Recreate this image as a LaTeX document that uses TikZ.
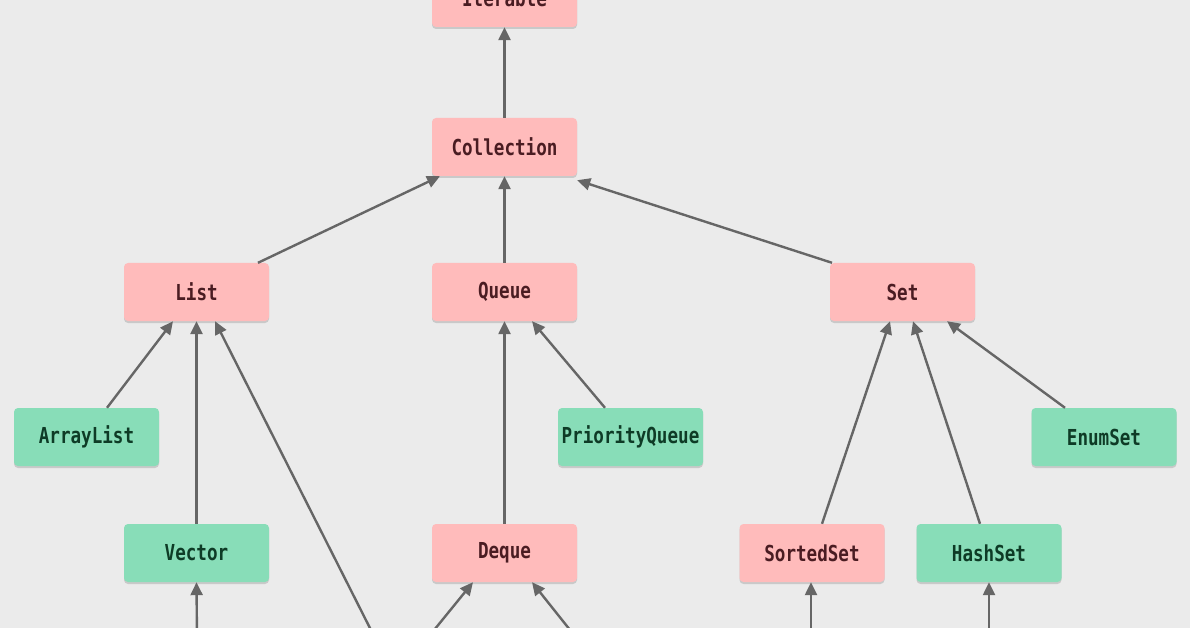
\documentclass[tikz,border=0pt]{standalone}
\usepackage{fontspec}
\newfontfamily\codefont[FakeStretch=0.8]{DejaVu Sans Mono}
\usetikzlibrary{arrows.meta,shadows}
\definecolor{bgc}{HTML}{EBEBEB}
\definecolor{pinkc}{HTML}{FFBBBB}
\definecolor{greenc}{HTML}{88DDB8}
\definecolor{pinkt}{HTML}{4A1C22}
\definecolor{greent}{HTML}{0E3B26}
\definecolor{edgec}{HTML}{666666}
\tikzset{
  cls/.style={rounded corners=4pt, minimum width=145pt, minimum height=58pt,
    inner sep=0pt, font=\codefont\bfseries\fontsize{22}{25}\selectfont,
    drop shadow={shadow xshift=0pt, shadow yshift=-2pt, opacity=0.25, fill=black!60}},
  iface/.style={cls, fill=pinkc, text=pinkt},
  impl/.style={cls, fill=greenc, text=greent},
  inh/.style={draw=edgec, line width=2.4pt, -{Triangle[length=13pt,width=12pt]}},
}
\begin{document}
\begin{tikzpicture}[x=1pt,y=-1pt]
\fill[white] (0,0) rectangle (1196,628);
\fill[bgc] (0,0) rectangle (1190,628);
\useasboundingbox (0,0) rectangle (1196,628);
\begin{scope}
\clip (0,0) rectangle (1190,628);
\node[iface] (iterable) at (504.5,-2) {Iterable};
\node[iface] (collection) at (504.5,147) {Collection};
\node[iface] (list) at (196.5,292) {List};
\node[iface] (queue) at (504.5,292) {Queue};
\node[iface] (set) at (902.5,292) {Set};
\node[impl] (arraylist) at (86.5,437) {ArrayList};
\node[impl] (pq) at (630.5,437) {PriorityQueue};
\node[impl] (enumset) at (1104,437) {EnumSet};
\node[impl] (vector) at (196.5,553) {Vector};
\node[iface] (deque) at (504.5,553) {Deque};
\node[iface] (sortedset) at (812,553) {SortedSet};
\node[impl] (hashset) at (989,553) {HashSet};

\coordinate (b1) at (197,640);
\coordinate (b2) at (376,640);
\coordinate (b3) at (426,640);
\coordinate (b4) at (578,640);
\coordinate (b5) at (811,640);
\coordinate (b6) at (989,640);

\draw[inh] (collection.north) -- (iterable.south);
\draw[inh] (list.north -| 258,0) -- (collection.south west -| 440,0);
\draw[inh] (queue.north) -- (collection.south);
\draw[inh] (set.north west -| 832,0) -- ([yshift=-4pt]collection.south east);
\draw[inh] (arraylist.north -| 107,0) -- (list.south -| 173,0);
\draw[inh] (vector.north) -- (list.south);
\draw[inh] (b2) -- (list.south -| 215,0);
\draw[inh] (deque.north) -- (queue.south);
\draw[inh] (pq.north -| 605,0) -- (queue.south -| 532,0);
\draw[inh] (sortedset.north -| 822,0) -- (set.south -| 890,0);
\draw[inh] (hashset.north -| 980,0) -- (set.south -| 913,0);
\draw[inh] (enumset.north -| 1065,0) -- (set.south -| 947,0);
\draw[inh] (b1) -- (vector.south);
\draw[inh] (b3) -- (deque.south -| 473,0);
\draw[inh] (b4) -- (deque.south -| 532,0);
\draw[inh] (b5) -- (sortedset.south -| 811,0);
\draw[inh] (b6) -- (hashset.south);
\end{scope}
\end{tikzpicture}
\end{document}
